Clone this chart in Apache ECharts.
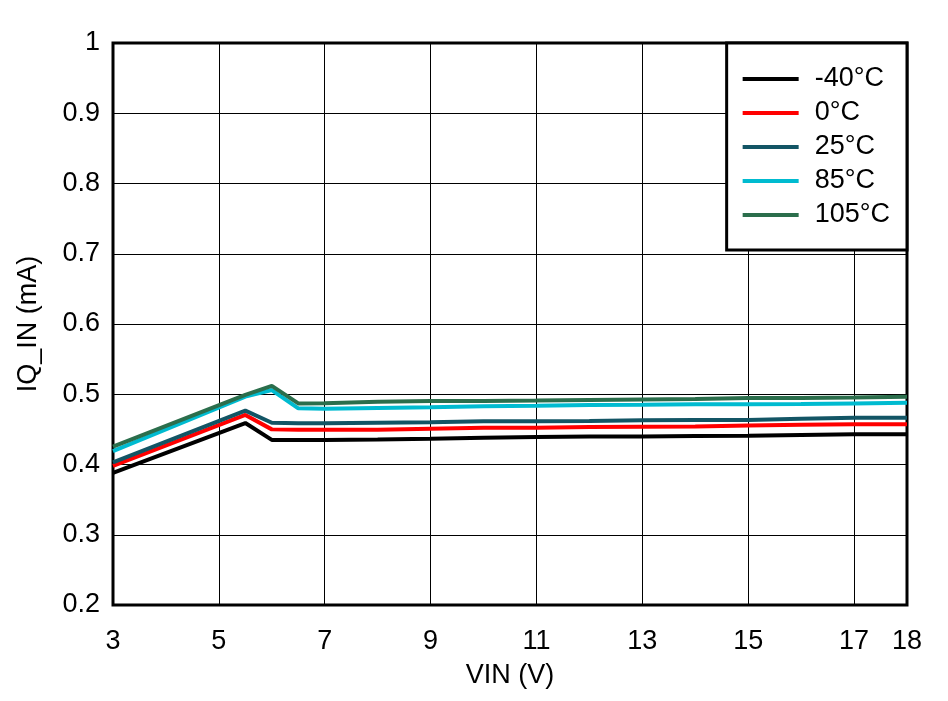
<!DOCTYPE html>
<html>
<head>
<meta charset="utf-8">
<script src="https://cdn.jsdelivr.net/npm/echarts@6/dist/echarts.min.js"></script>
<style>
html,body{margin:0;padding:0;background:#fff;}
#chart{width:948px;height:701px;}
</style>
</head>
<body>
<div id="chart"></div>
<script>
var seriesNames = ['-40°C', '0°C', '25°C', '85°C', '105°C'];
var seriesColors = ['#000000', '#ff0000', '#135565', '#00bbd0', '#2b6e4c'];
var vin = [3, 5.5, 6, 6.5, 7, 8, 9, 10, 11, 12, 13, 14, 15, 16, 17, 18];
var iqM40 = [0.388, 0.459, 0.435, 0.435, 0.435, 0.4355, 0.4367, 0.438, 0.439, 0.440, 0.440, 0.4405, 0.441, 0.442, 0.443, 0.443];
var iq0 = [0.398, 0.4705, 0.450, 0.4495, 0.4495, 0.4495, 0.451, 0.4524, 0.4524, 0.4535, 0.4538, 0.454, 0.4555, 0.4565, 0.4572, 0.4572];
var iq25 = [0.403, 0.4766, 0.4595, 0.4586, 0.4586, 0.4595, 0.460, 0.4615, 0.4615, 0.462, 0.463, 0.4633, 0.4635, 0.465, 0.4666, 0.4666];
var iq85 = [0.419, 0.4966, 0.506, 0.480, 0.4794, 0.4805, 0.4814, 0.4828, 0.4835, 0.4847, 0.4850, 0.4857, 0.4857, 0.486, 0.487, 0.488];
var iq105 = [0.4253, 0.499, 0.512, 0.487, 0.4871, 0.4895, 0.4904, 0.4904, 0.491, 0.4918, 0.4925, 0.4932, 0.4947, 0.4947, 0.4955, 0.4965];
var xTitle = 'VIN (V)';
var yTitle = 'IQ_IN (mA)';

var allValues = [iqM40, iq0, iq25, iq85, iq105];
var font = "'Liberation Sans', Arial, sans-serif";

var series = allValues.map(function (vals, i) {
  return {
    name: seriesNames[i],
    type: 'line',
    data: vin.map(function (x, j) { return [x, vals[j]]; }),
    showSymbol: false,
    symbol: 'none',
    lineStyle: { color: seriesColors[i], width: 4 },
    itemStyle: { color: seriesColors[i] },
    emphasis: { disabled: true },
    animation: false
  };
});

var chart = echarts.init(document.getElementById('chart'));
chart.setOption({
  animation: false,
  backgroundColor: '#fff',
  grid: {
    left: 113, right: 41, top: 43, bottom: 96,
    show: true, borderColor: '#000', borderWidth: 3
  },
  xAxis: {
    type: 'value', min: 3, max: 18, interval: 2,
    name: xTitle, nameLocation: 'middle', nameGap: 57,
    nameTextStyle: { fontSize: 27, fontFamily: font, color: '#000' },
    axisLine: { show: false },
    axisTick: { show: false },
    axisLabel: { fontSize: 27, fontFamily: font, color: '#000', margin: 23 },
    splitLine: { show: true, lineStyle: { color: '#000', width: 1 } }
  },
  yAxis: {
    type: 'value', min: 0.2, max: 1, interval: 0.1,
    name: yTitle, nameLocation: 'middle', nameGap: 71,
    nameTextStyle: { fontSize: 27, fontFamily: font, color: '#000' },
    axisLine: { show: false },
    axisTick: { show: false },
    axisLabel: { fontSize: 27, fontFamily: font, color: '#000', margin: 13 },
    splitLine: { show: true, lineStyle: { color: '#000', width: 1 } }
  },
  legend: {
    orient: 'vertical', right: 41, top: 43,
    backgroundColor: '#fff', borderColor: '#000', borderWidth: 3,
    padding: [21, 17, 20, 16],
    itemWidth: 56, itemHeight: 4, itemGap: 4,
    icon: 'rect',
    selectedMode: false,
    textStyle: { fontSize: 27, fontFamily: font, color: '#000', lineHeight: 30, padding: [0, 0, 0, 11] },
    data: seriesNames
  },
  series: series
});
</script>
</body>
</html>
